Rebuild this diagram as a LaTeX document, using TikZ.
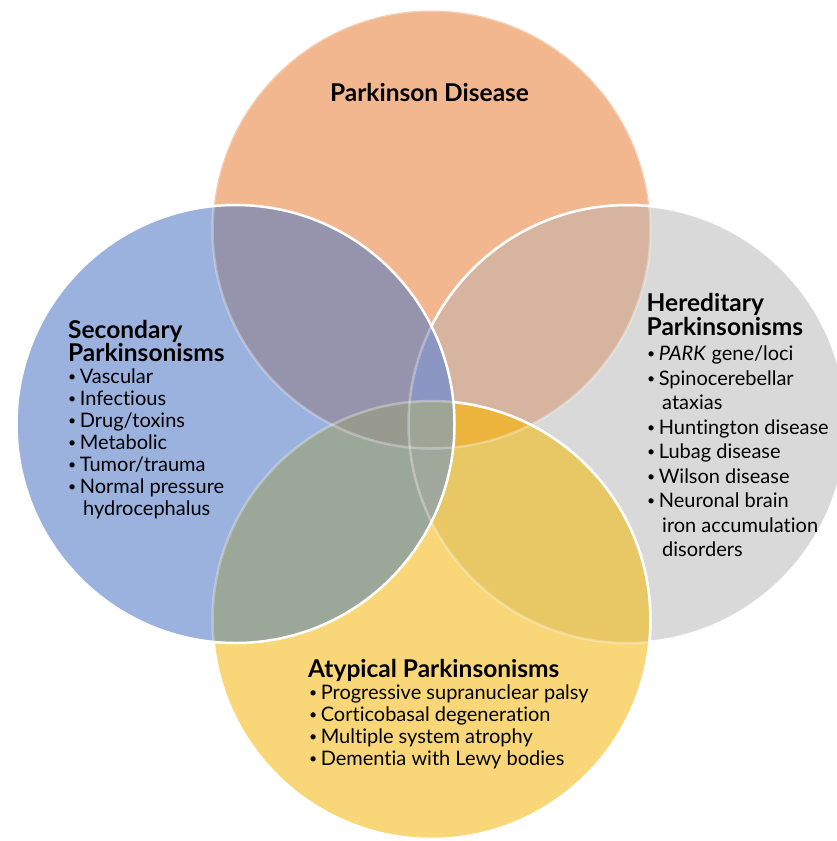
\documentclass[tikz,border=0pt]{standalone}
\usepackage{fontspec}
\setmainfont[Ligatures=NoCommon]{Lato}
\usepackage{graphicx}
\definecolor{cT}{RGB}{243,183,143}
\definecolor{cL}{RGB}{155,178,222}
\definecolor{cR}{RGB}{217,217,217}
\definecolor{cB}{RGB}{249,215,120}
\definecolor{cTL}{RGB}{150,148,172}
\definecolor{cTR}{RGB}{214,180,160}
\definecolor{cLB}{RGB}{155,167,152}
\definecolor{cRB}{RGB}{232,200,100}
\definecolor{cTRB}{RGB}{236,180,60}
\definecolor{cTLB}{RGB}{152,153,143}
\definecolor{cTLR}{RGB}{140,150,195}
\definecolor{cLRB}{RGB}{160,168,155}
\definecolor{cTLRB}{RGB}{158,164,150}
\newcommand\bul[1]{\makebox[0.58em][l]{\raisebox{0.1em}{\scalebox{0.7}{•}}}#1}
\newcommand\cont[1]{\hspace*{0.75em}#1}
\def\circT{(431.5,229.5) circle (219pt)}
\def\circL{(235.5,424) circle (219pt)}
\def\circR{(627.5,424) circle (219pt)}
\def\circB{(431.5,620) circle (219pt)}
\def\bbox{(-10,-10) rectangle (850,850)}
\tikzset{
  head/.style={font=\fontsize{24.5}{28}\selectfont\bfseries, anchor=base west, inner sep=0pt},
  headtop/.style={head, text depth=0pt},
  lit/.style={font=\fontsize{20}{22}\selectfont, anchor=base west, inner sep=0pt},
  rit/.style={font=\fontsize{20}{24}\selectfont, anchor=base west, inner sep=0pt},
  bright/.style={draw=white, line width=2.5pt},
  faint/.style={draw=white, draw opacity=0.3, line width=2.5pt}
}
\begin{document}
\begin{tikzpicture}[x=1pt,y=-1pt]
\useasboundingbox (0,0) rectangle (836,841);
% base fills
\fill[cT] \circT;
\fill[cR] \circR;
\fill[cB] \circB;
\fill[cL] \circL;
% pairs
\begin{scope}\clip \circT; \fill[cTL] \circL; \fill[cTR] \circR; \end{scope}
\begin{scope}\clip \circB; \fill[cLB] \circL; \fill[cRB] \circR; \end{scope}
% triples
\begin{scope}\clip \circT; \clip \circB; \fill[cTRB] \circR; \fill[cTLB] \circL; \end{scope}
\begin{scope}\clip \circT; \clip \circL; \fill[cTLR] \circR; \end{scope}
\begin{scope}\clip \circL; \clip \circR; \fill[cLRB] \circB; \end{scope}
% quad
\begin{scope}\clip \circT; \clip \circL; \clip \circR; \fill[cTLRB] \circB; \end{scope}
% outlines
\path[faint] \circT;
\path[faint] \circR;
\begin{scope}[even odd rule]
  \clip \bbox \circB;
  \clip \bbox \circL;
  \path[bright] \circR;
\end{scope}
\path[faint] \circB;
\begin{scope}[even odd rule]
  \clip \bbox \circL;
  \path[bright] \circB;
\end{scope}
\path[bright] \circL;
% texts
\node[head, anchor=base] (pd) at (429.5,101) {Parkinson Disease};

\node[headtop] (s1) at (68,338) {Secondary};
\node[head] (s2) at (68,361) {Parkinsonisms};
\node[lit] (s3) at (68,383) {\bul{Vascular}};
\node[lit] (s4) at (68,405) {\bul{Infectious}};
\node[lit] (s5) at (68,427) {\bul{Drug/toxins}};
\node[lit] (s6) at (68,449) {\bul{Metabolic}};
\node[lit] (s7) at (68,471) {\bul{Tumor/trauma}};
\node[lit] (s8) at (68,493) {\bul{Normal pressure}};
\node[lit] (s9) at (68,515) {\cont{hydrocephalus}};

\node[headtop] (h1) at (646.5,311) {Hereditary};
\node[head] (h2) at (646.5,335) {Parkinsonisms};
\node[rit] (h3) at (647,360) {\bul{\textit{PARK} gene/loci}};
\node[rit] (h4) at (647,385) {\bul{Spinocerebellar}};
\node[rit] (h5) at (647,409.5) {\cont{ataxias}};
\node[rit] (h6) at (647,434) {\bul{Huntington disease}};
\node[rit] (h7) at (647,458.5) {\bul{Lubag disease}};
\node[rit] (h8) at (647,483) {\bul{Wilson disease}};
\node[rit] (h9) at (647,507) {\bul{Neuronal brain}};
\node[rit] (h10) at (647,532) {\cont{iron accumulation}};
\node[rit] (h11) at (647,556) {\cont{disorders}};

\node[head] (a1) at (308,677) {Atypical Parkinsonisms};
\node[lit] (a2) at (309,699) {\bul{Progressive supranuclear palsy}};
\node[lit] (a3) at (309,721) {\bul{Corticobasal degeneration}};
\node[lit] (a4) at (309,743) {\bul{Multiple system atrophy}};
\node[lit] (a5) at (309,765) {\bul{Dementia with Lewy bodies}};
\end{tikzpicture}
\end{document}
